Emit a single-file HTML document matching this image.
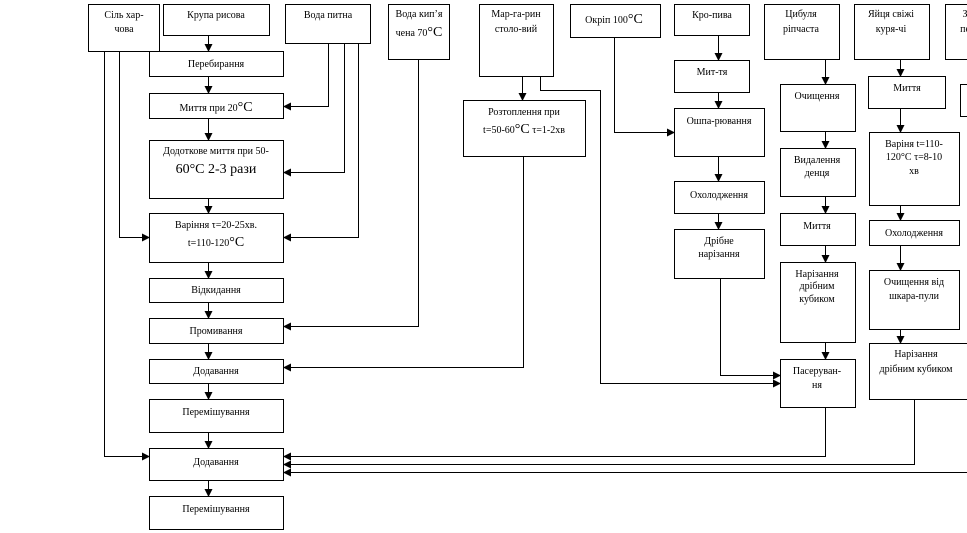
<!DOCTYPE html>
<html><head><meta charset="utf-8"><style>
html,body{margin:0;padding:0;background:#fff;width:967px;height:533px;overflow:hidden}
svg{display:block}
text{font-family:"Liberation Serif",serif;font-size:10px;fill:#000;text-anchor:middle}
.b{font-size:14px}
rect{fill:#fff;stroke:#000;stroke-width:1}
path{fill:none;stroke:#000;stroke-width:1}
</style></head><body>
<svg width="967" height="533" viewBox="0 0 967 533" xmlns="http://www.w3.org/2000/svg">
<defs><marker id="a" markerWidth="8" markerHeight="8" refX="7" refY="4" orient="auto" markerUnits="userSpaceOnUse"><path d="M0,0 L8,4 L0,8 Z" style="fill:#000;stroke:none"/></marker></defs>
<g>
<rect x="88.5" y="4.5" width="71" height="47"/><text x="124" y="18">Сіль хар-</text><text x="124" y="32">чова</text>
<rect x="163.5" y="4.5" width="106" height="31"/><text x="216" y="18">Крупа рисова</text>
<rect x="285.5" y="4.5" width="85" height="39"/><text x="328" y="18">Вода питна</text>
<rect x="388.5" y="4.5" width="61" height="55"/><text x="419" y="17">Вода кип’я</text><text x="419" y="36">чена 70<tspan class="b">°C</tspan></text>
<rect x="479.5" y="4.5" width="74" height="72"/><text x="516" y="17">Мар-га-рин</text><text x="516" y="32">столо-вий</text>
<rect x="570.5" y="4.5" width="90" height="33"/><text x="614" y="23">Окріп 100<tspan class="b">°C</tspan></text>
<rect x="674.5" y="4.5" width="75" height="31"/><text x="712" y="18">Кро-пива</text>
<rect x="764.5" y="4.5" width="75" height="55"/><text x="801" y="17">Цибуля</text><text x="801" y="32">ріпчаста</text>
<rect x="854.5" y="4.5" width="75" height="55"/><text x="891" y="17">Яйця свіжі</text><text x="891" y="32">куря-чі</text>
<rect x="945.5" y="4.5" width="40" height="55"/><text x="965" y="17">З</text><text x="965" y="32">пе</text>

<rect x="149.5" y="51.5" width="134" height="25"/><text x="216" y="67">Перебирання</text>
<rect x="149.5" y="93.5" width="134" height="25"/><text x="216" y="111">Миття при 20<tspan class="b">°C</tspan></text>
<rect x="149.5" y="140.5" width="134" height="58"/><text x="216" y="154">Додоткове миття при 50-</text><text x="216" y="173" class="b">60°C 2-3 рази</text>
<rect x="149.5" y="213.5" width="134" height="49"/><text x="216" y="228">Варіння τ=20-25хв.</text><text x="216" y="246">t=110-120<tspan class="b">°C</tspan></text>
<rect x="149.5" y="278.5" width="134" height="24"/><text x="216" y="293">Відкидання</text>
<rect x="149.5" y="318.5" width="134" height="25"/><text x="216" y="334">Промивання</text>
<rect x="149.5" y="359.5" width="134" height="24"/><text x="216" y="374">Додавання</text>
<rect x="149.5" y="399.5" width="134" height="33"/><text x="216" y="415">Перемішування</text>
<rect x="149.5" y="448.5" width="134" height="32"/><text x="216" y="465">Додавання</text>
<rect x="149.5" y="496.5" width="134" height="33"/><text x="216" y="512">Перемішування</text>

<rect x="463.5" y="100.5" width="122" height="56"/><text x="524" y="115">Розтоплення при</text><text x="524" y="133">t=50-60<tspan class="b">°C</tspan> τ=1-2хв</text>

<rect x="674.5" y="60.5" width="75" height="32"/><text x="712" y="75">Мит-тя</text>
<rect x="674.5" y="108.5" width="90" height="48"/><text x="719" y="124">Ошпа-рювання</text>
<rect x="674.5" y="181.5" width="90" height="32"/><text x="719" y="198">Охолодження</text>
<rect x="674.5" y="229.5" width="90" height="49"/><text x="719" y="244">Дрібне</text><text x="719" y="257">нарізання</text>

<rect x="780.5" y="84.5" width="75" height="47"/><text x="817" y="99">Очищення</text>
<rect x="780.5" y="148.5" width="75" height="48"/><text x="817" y="163">Видалення</text><text x="817" y="176">денця</text>
<rect x="780.5" y="213.5" width="75" height="32"/><text x="817" y="229">Миття</text>
<rect x="780.5" y="262.5" width="75" height="80"/><text x="817" y="277">Нарізання</text><text x="817" y="289">дрібним</text><text x="817" y="302">кубиком</text>
<rect x="780.5" y="359.5" width="75" height="48"/><text x="817" y="374">Пасеруван-</text><text x="817" y="388">ня</text>

<rect x="868.5" y="76.5" width="77" height="32"/><text x="907" y="91">Миття</text>
<rect x="869.5" y="132.5" width="90" height="73"/><text x="914" y="147">Варіня t=110-</text><text x="914" y="160">120°C τ=8-10</text><text x="914" y="174">хв</text>
<rect x="869.5" y="220.5" width="90" height="25"/><text x="914" y="236">Охолодження</text>
<rect x="869.5" y="270.5" width="90" height="59"/><text x="914" y="285">Очищення від</text><text x="914" y="299">шкара-пули</text>
<rect x="869.5" y="343.5" width="110" height="56"/><text x="916" y="357">Нарізання</text><text x="916" y="372">дрібним кубиком</text>
<rect x="960.5" y="84.5" width="20" height="32"/>
</g>
<g marker-end="url(#a)">
<path d="M208.5,35 V51"/><path d="M208.5,76 V93"/><path d="M208.5,118 V140"/><path d="M208.5,198 V213"/>
<path d="M208.5,262 V278"/><path d="M208.5,302 V318"/><path d="M208.5,343 V359"/><path d="M208.5,383 V399"/>
<path d="M208.5,432 V448"/><path d="M208.5,480 V496"/>
<path d="M104.5,51 V456.5 H149"/><path d="M119.5,51 V237.5 H149"/>
<path d="M328.5,43 V106.5 H284"/><path d="M344.5,43 V172.5 H284"/><path d="M358.5,43 V237.5 H284"/>
<path d="M418.5,59 V326.5 H284"/>
<path d="M522.5,76 V100"/><path d="M540.5,76 V90.5 H600.5 V383.5 H780"/>
<path d="M523.5,156 V367.5 H284"/>
<path d="M614.5,37 V132.5 H674"/>
<path d="M718.5,35 V60"/><path d="M718.5,92 V108"/><path d="M718.5,156 V181"/><path d="M718.5,213 V229"/>
<path d="M720.5,278 V375.5 H780"/>
<path d="M825.5,59 V84"/><path d="M825.5,131 V148"/><path d="M825.5,196 V213"/><path d="M825.5,245 V262"/><path d="M825.5,342 V359"/>
<path d="M825.5,407 V456.5 H284"/>
<path d="M900.5,59 V76"/><path d="M900.5,108 V132"/><path d="M900.5,205 V220"/><path d="M900.5,245 V270"/><path d="M900.5,329 V343"/>
<path d="M914.5,399 V464.5 H284"/>
<path d="M967,472.5 H284"/>
</g>
</svg>
</body></html>
